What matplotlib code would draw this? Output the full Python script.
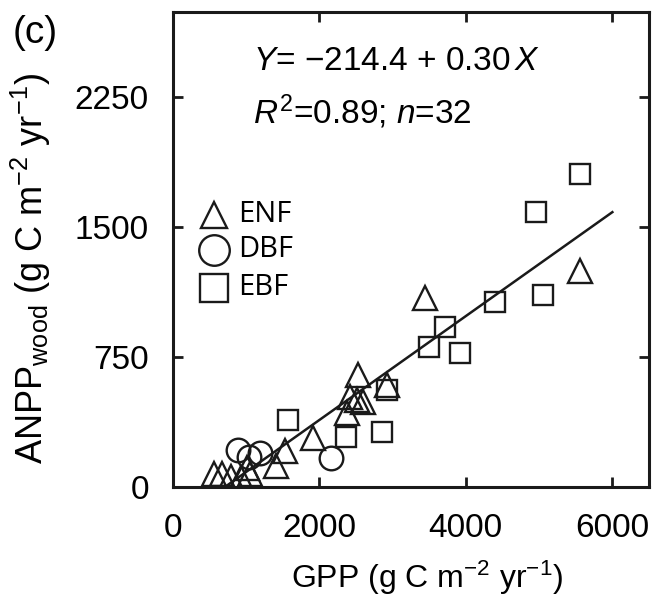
import matplotlib.pyplot as plt
import numpy as np
from matplotlib.lines import Line2D

plt.rcParams['font.family'] = ['Liberation Sans', 'DejaVu Sans']
plt.rcParams['mathtext.fontset'] = 'custom'
plt.rcParams['mathtext.rm'] = 'Liberation Sans'
plt.rcParams['mathtext.it'] = 'Liberation Sans:italic'

# GPP and ANPP_wood (g C m-2 yr-1)
enf_gpp = [560, 670, 800, 930, 1060, 1010, 1410, 1530, 1920, 2375, 2420, 2510,
           2600, 2530, 2920, 3440, 5560]
enf_anpp = [75, 75, 60, 50, 75, 110, 120, 210, 280, 425, 520, 500,
            490, 645, 590, 1090, 1245]
dbf_gpp = [900, 1040, 1200, 2160]
dbf_anpp = [215, 175, 195, 165]
ebf_gpp = [1570, 2370, 2860, 2920, 3500, 3720, 3920, 4400, 4960, 5060, 5560]
ebf_anpp = [385, 290, 320, 560, 810, 925, 775, 1065, 1585, 1105, 1805]

intercept, slope = -214.4, 0.30
fit_x = np.array([720, 6000])

xticks = [0, 2000, 4000, 6000]
yticks = [0, 750, 1500, 2250]

legend_labels = ['ENF', 'DBF', 'EBF']
legend_markers = ['^', 'o', 's']

fig = plt.figure(figsize=(6.53, 6.01), dpi=100)
ax = fig.add_axes([0.2642, 0.1897, 0.7297, 0.7903])

ink = '#1a1a1a'
mk = dict(linestyle='none', markerfacecolor='none', markeredgecolor=ink,
          markeredgewidth=1.7)
ax.plot(ebf_gpp, ebf_anpp, marker='s', markersize=15, **mk)
ax.plot(dbf_gpp, dbf_anpp, marker='o', markersize=17, **mk)
ax.plot(enf_gpp, enf_anpp, marker='^', markersize=17, **mk)
ax.plot(fit_x, intercept + slope * fit_x, color=ink, lw=1.8)

ax.set_xlim(0, 6500)
ax.set_ylim(0, 2740)
ax.set_xticks(xticks)
ax.set_yticks(yticks)
ax.tick_params(direction='in', length=7, width=2, labelsize=24,
               top=True, right=True, color=ink)
ax.tick_params(axis='y', pad=17)
ax.tick_params(axis='x', pad=19)
for s in ax.spines.values():
    s.set_linewidth(2.2)
    s.set_color(ink)

ax.set_xlabel('GPP (g C m$^{-2}$ yr$^{-1}$)', fontsize=23)
ax.set_ylabel('ANPP$_{\\mathrm{wood}}$ (g C m$^{-2}$ yr$^{-1}$)', fontsize=26)
ax.xaxis.set_label_coords(0.534, -0.15)
ax.yaxis.set_label_coords(-0.25, 0.46)

ax.text(0.169, 0.895, '$Y$= \u2212214.4 + 0.30$\\,X$', transform=ax.transAxes,
        fontsize=24, va='center', ha='left')
ax.text(0.169, 0.789, '$R^2$=0.89; $n$=32', transform=ax.transAxes,
        fontsize=24, va='center', ha='left')
fig.text(0.02, 0.945, '(c)', fontsize=28, va='center', ha='left')

# hand-placed legend
leg_y = [0.573, 0.499, 0.42]
leg_size = [19, 22, 20]
for m, lab, y, sz in zip(legend_markers, legend_labels, leg_y, leg_size):
    ax.add_line(Line2D([0.086], [y], marker=m, markersize=sz,
                       transform=ax.transAxes, clip_on=False, **mk))
    ax.text(0.137, y, lab, transform=ax.transAxes, fontsize=21,
            family='Open Sans', va='center', ha='left')

fig.savefig('out.png', dpi=100)
